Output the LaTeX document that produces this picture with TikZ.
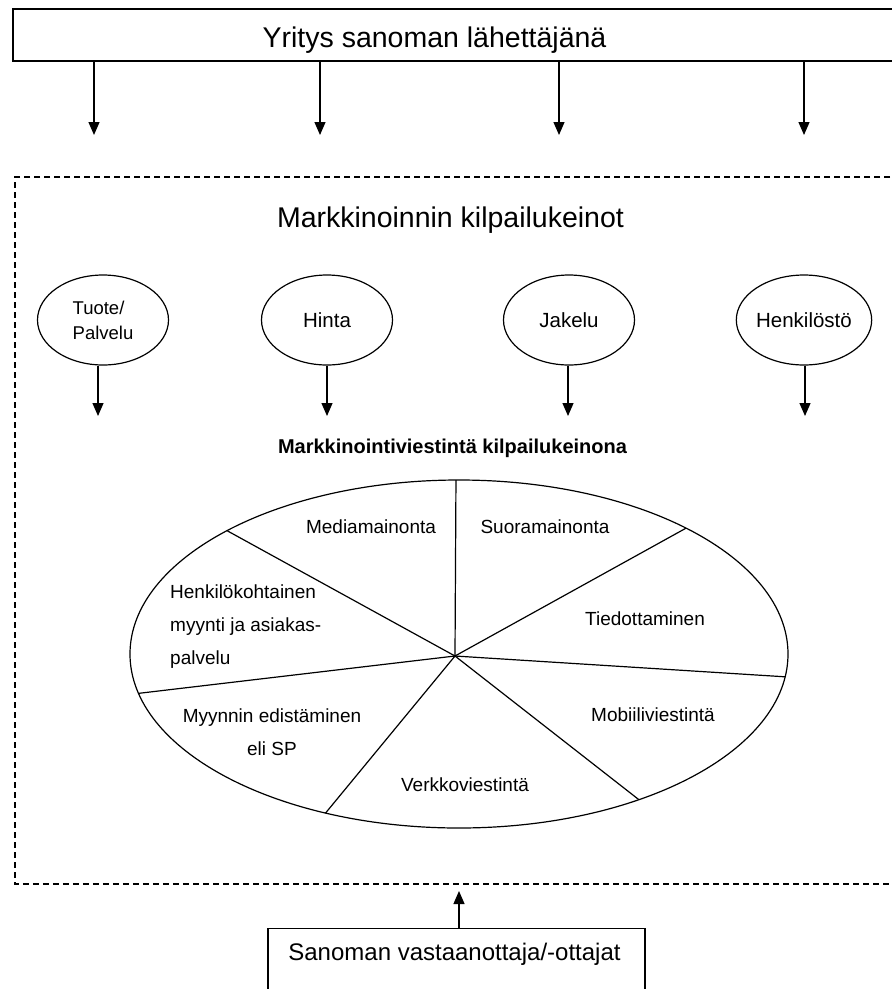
\documentclass[tikz,border=0pt]{standalone}
\usepackage{fontspec}
\setmainfont{Liberation Sans}
\usetikzlibrary{arrows.meta,shapes.geometric}
\tikzstyle{kehys} = [draw, line width=1.4pt, rectangle, inner sep=0pt]
\tikzstyle{keino} = [draw, line width=1.2pt, ellipse, minimum width=131pt, minimum height=90pt, inner sep=0pt, font=\fontsize{20.5}{25}\selectfont]
\tikzstyle{otsikko} = [font=\fontsize{28.5}{34}\selectfont, inner sep=0pt]
\tikzstyle{lohko} = [font=\fontsize{19}{33}\selectfont, inner sep=0pt]
\tikzstyle{nuoli} = [-{Triangle[length=13pt,width=11pt]}, line width=1.2pt]

\begin{document}
\begin{tikzpicture}[x=1pt,y=-1pt]
	\clip (0,0) rectangle (892,989);
	\fill[white] (0,0) rectangle (892,989);
	\node[kehys, minimum width=892pt, minimum height=52pt, label={[otsikko, xshift=-24.5pt, yshift=-5.5pt]center:Yritys sanoman lähettäjänä}] (lahettaja) at (459,35) {};
	\foreach \x in {94,320,559,804}
		\draw[nuoli] (lahettaja.south -| \x,0) -- (\x,135);
	% kilpailukeinot
	\draw[line width=1.2pt, dash pattern=on 6pt off 4pt] (900,177) -- (15,177) -- (15,884) -- (900,884);
	\node[otsikko] (keinot) at (450.5,220) {Markkinoinnin kilpailukeinot};
	\node[keino, align=left, font=\fontsize{18.5}{25}\selectfont] (tuote) at (103,320) {Tuote/\\Palvelu};
	\node[keino] (hinta) at (327,320) {Hinta};
	\node[keino] (jakelu) at (569,320) {Jakelu};
	\node[keino] (henkilosto) at (804,320) {Henkilöstö};
	\foreach \k/\x in {tuote/98,hinta/327,jakelu/568,henkilosto/805}
		\draw[nuoli] (\k.south -| \x,0) -- (\x,416);
	\node[font=\bfseries\fontsize{20}{24}\selectfont, inner sep=0pt] (viestinta) at (452.5,448) {Markkinointiviestintä kilpailukeinona};
	% viestintäpiirakka
	\node[draw, ellipse, line width=1.2pt, minimum width=658pt, minimum height=348pt, inner sep=0pt, outer sep=0pt] (piirakka) at (459,654) {};
	\coordinate (keskus) at (455,656);
	\foreach \a in {91,29,-4,-39,230,187,152}
		\draw[line width=1.2pt] (keskus) -- (piirakka.\a);
	\node[lohko] (media) at (371,527) {Mediamainonta};
	\node[lohko] (suora) at (545,527) {Suoramainonta};
	\node[lohko] (tiedotus) at (645,619) {Tiedottaminen};
	\node[lohko] (mobiili) at (653,715) {Mobiiliviestintä};
	\node[lohko] (verkko) at (465,785) {Verkkoviestintä};
	\node[lohko, anchor=west, align=left] (henkilo) at (170,627) {Henkilökohtainen\\myynti ja asiakas-\\palvelu};
	\node[lohko, align=center] (sp) at (272,732) {Myynnin edistäminen\\eli SP};
	% vastaanottaja
	\node[kehys, line width=1.3pt, minimum width=377pt, minimum height=90pt, anchor=north, label={[font=\fontsize{24}{28}\selectfont, inner sep=0pt, xshift=-2pt, yshift=19pt]center:Sanoman vastaanottaja/-ottajat}] (vastaanottaja) at (456.5,928) {};
	\coordinate (palaute) at (459,891);
	\draw[nuoli] (vastaanottaja.north -| palaute) -- (palaute);
\end{tikzpicture}
\end{document}
